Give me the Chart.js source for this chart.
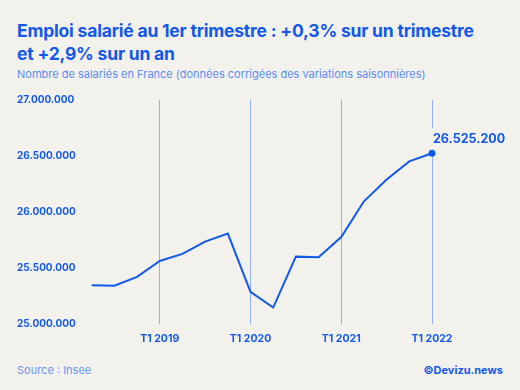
<!DOCTYPE html>
<html>
<head>
<meta charset="utf-8">
<script src="https://cdn.jsdelivr.net/npm/chart.js@4.4.0/dist/chart.umd.min.js"></script>
<style>
  html, body { margin: 0; padding: 0; }
  body { width: 520px; height: 390px; background: #f3f1ec; position: relative; overflow: hidden; font-family: Inter, "Noto Sans", sans-serif; }
  #titre { position: absolute; left: 17px; top: 19px; color: #1359e8; font-weight: 700; font-size: 17.5px; line-height: 23px; letter-spacing: -0.2px; }
  #sousTitre { position: absolute; left: 17px; top: 67px; color: #5b8ef0; font-size: 11px; }
  #source { position: absolute; left: 17px; top: 363px; color: #6a97f0; font-size: 11px; }
  #credit { position: absolute; right: 17px; top: 363px; color: #1359e8; font-size: 11px; font-weight: 700; }
  #zone { position: absolute; left: 0; top: 80px; width: 520px; height: 273px; }
</style>
</head>
<body>
<div id="titre">Emploi salarié au 1er trimestre : +0,3% sur un trimestre<br>et +2,9% sur un an</div>
<div id="sousTitre">Nombre de salariés en France (données corrigées des variations saisonnières)</div>
<div id="zone"><canvas id="graphique"></canvas></div>
<div id="source">Source : Insee</div>
<div id="credit">©Devizu.news</div>
<script>
// Trimestres de T2 2018 à T1 2022
const trimestres = [
    'T2 2018', 'T3 2018', 'T4 2018',
    'T1 2019', 'T2 2019', 'T3 2019', 'T4 2019',
    'T1 2020', 'T2 2020', 'T3 2020', 'T4 2020',
    'T1 2021', 'T2 2021', 'T3 2021', 'T4 2021',
    'T1 2022'
];
// Nombre de salariés
const salaries = [
    25350000, 25345000, 25424000,
    25565000, 25628000, 25738000, 25810000,
    25290000, 25150000, 25604000, 25598000,
    25778000, 26097000, 26291000, 26453000,
    26525200
];
const ticksY = [25000000, 25500000, 26000000, 26500000, 27000000];

const bleu = '#1359e8';
const bleuGrille = '#93b2f0';
const fond = '#f3f1ec';

function formatFr(v) {
    return String(v).replace(/\B(?=(\d{3})+(?!\d))/g, '.');
}

// Étiquette de la dernière valeur
const etiquetteFinale = {
    id: 'etiquetteFinale',
    afterDatasetsDraw(chart) {
        const meta = chart.getDatasetMeta(0);
        const pt = meta.data[meta.data.length - 1];
        const ctx = chart.ctx;
        const texte = formatFr(salaries[salaries.length - 1]);
        ctx.save();
        ctx.font = '700 12.5px Inter, "Noto Sans", sans-serif';
        const w = ctx.measureText(texte).width;
        ctx.fillStyle = fond;
        ctx.fillRect(pt.x - 3, pt.y - 25, w + 6, 21);
        ctx.fillStyle = bleu;
        ctx.textBaseline = 'middle';
        ctx.textAlign = 'left';
        ctx.fillText(texte, pt.x + 1, pt.y - 14);
        ctx.beginPath();
        ctx.arc(pt.x, pt.y, 3.5, 0, Math.PI * 2);
        ctx.fill();
        ctx.restore();
    }
};

const ctx = document.getElementById('graphique').getContext('2d');
new Chart(ctx, {
    type: 'line',
    data: {
        labels: trimestres,
        datasets: [{
            data: salaries,
            borderColor: bleu,
            borderWidth: 2,
            pointRadius: 0,
            tension: 0,
            clip: false
        }]
    },
    options: {
        responsive: true,
        maintainAspectRatio: false,
        animation: false,
        layout: { padding: { left: 17, right: 88, top: 20, bottom: 0 } },
        plugins: { legend: { display: false }, tooltip: { enabled: false } },
        scales: {
            x: {
                offset: false,
                border: { display: false },
                grid: {
                    color: c => (trimestres[c.index] || '').startsWith('T1') ? bleuGrille : 'transparent',
                    lineWidth: 1,
                    drawTicks: false
                },
                ticks: {
                    autoSkip: false,
                    maxRotation: 0,
                    padding: 8,
                    color: bleu,
                    font: { family: 'Inter', weight: '700', size: 10.5 },
                    callback: function(value, index) {
                        const l = trimestres[index];
                        return l.startsWith('T1') ? l : '';
                    }
                }
            },
            y: {
                min: 25000000,
                max: 27000000,
                border: { display: false },
                grid: { display: false },
                afterFit: axe => { axe.width = 74.7; },
                afterBuildTicks: axe => { axe.ticks = ticksY.map(v => ({ value: v })); },
                ticks: {
                    crossAlign: 'far',
                    padding: 0,
                    color: bleu,
                    font: { family: 'Inter', weight: '700', size: 10 },
                    callback: v => formatFr(v)
                }
            }
        }
    },
    plugins: [etiquetteFinale]
});
</script>
</body>
</html>
